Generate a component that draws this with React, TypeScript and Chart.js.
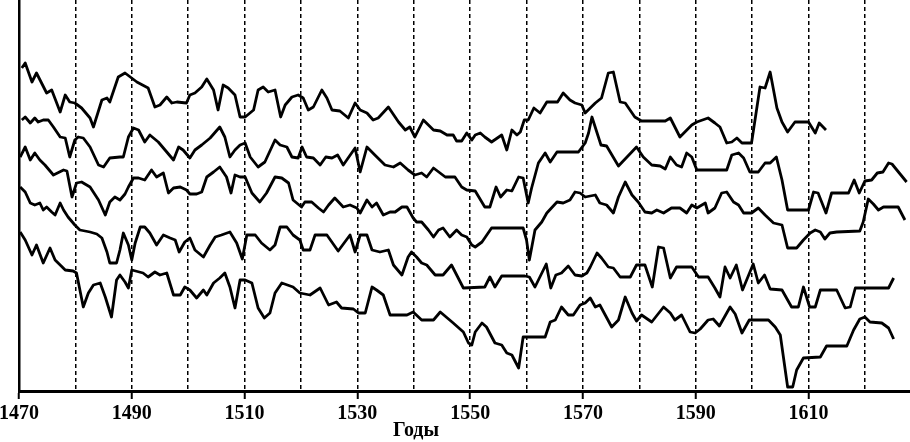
import React, { useEffect, useRef } from "react";
import { Chart, registerables } from "chart.js";

Chart.register(...registerables);

// ---- data ----
const labeledYears = [1470, 1490, 1510, 1530, 1550, 1570, 1590, 1610];
const xTitle = "Годы";

const s1Years = [1470.5,1471.1,1472.3,1473.1,1474.9,1475.8,1477.3,1478.2,1479.0,1479.9,1481.1,1482.6,1483.2,1484.7,1485.6,1486.1,1487.6,1488.8,1490.9,1492.9,1494.1,1495.0,1496.2,1497.1,1498.0,1499.7,1500.3,1501.2,1502.4,1503.3,1504.5,1505.3,1506.2,1507.1,1508.3,1509.2,1510.1,1511.6,1512.4,1513.3,1514.2,1515.4,1516.4,1517.2,1518.4,1519.5,1520.4,1521.3,1522.2,1523.7,1524.6,1525.5,1526.9,1528.4,1529.6,1530.5,1531.7,1532.8,1533.7,1535.5,1537.3,1538.5,1539.3,1540.2,1541.7,1543.5,1544.7,1545.9,1547.0,1547.6,1548.5,1549.4,1550.3,1550.9,1551.8,1552.6,1553.8,1555.6,1556.5,1557.4,1558.3,1558.9,1559.6,1560.3,1561.3,1562.4,1563.6,1565.5,1566.5,1567.7,1568.6,1569.8,1570.4,1571.3,1572.2,1573.3,1574.5,1575.4,1576.6,1577.5,1579.2,1580.4,1584.6,1585.5,1587.2,1589.3,1590.2,1592.2,1593.4,1594.3,1595.5,1596.4,1597.3,1598.2,1599.9,1601.4,1602.3,1603.2,1604.4,1605.3,1606.3,1607.6,1610.0,1611.2,1611.9,1613.1];
const s1Values = [322,327,308,317,297,300,278,295,288,287,282,272,263,290,292,288,313,317,308,302,283,285,293,287,288,287,295,297,303,311,300,280,305,302,295,273,273,280,300,303,298,300,273,285,293,295,292,280,283,300,292,280,279,272,287,280,277,270,272,283,268,260,263,253,270,260,259,255,255,249,249,257,250,255,257,253,248,255,240,260,255,258,270,270,282,277,288,288,297,290,287,285,277,282,287,292,317,318,288,287,273,269,269,272,253,265,268,272,267,263,247,248,252,247,247,303,302,318,282,268,258,268,268,257,267,260];

const s2Years = [1470.5,1471.1,1472.0,1472.8,1473.4,1474.3,1475.2,1476.1,1477.3,1478.2,1479.0,1479.9,1480.5,1481.4,1482.6,1484.1,1485.0,1486.1,1487.9,1488.5,1489.4,1490.3,1491.2,1492.3,1493.2,1494.7,1495.9,1497.4,1498.3,1499.1,1500.3,1501.2,1502.4,1503.9,1505.6,1506.5,1507.4,1508.3,1509.2,1510.1,1511.0,1512.4,1513.6,1515.4,1516.3,1517.5,1518.4,1519.5,1520.2,1521.0,1522.2,1523.4,1524.4,1525.5,1526.5,1527.5,1529.6,1530.5,1531.7,1533.1,1534.9,1536.4,1537.6,1539.0,1540.2,1541.4,1542.3,1543.5,1545.6,1547.3,1548.5,1549.4,1550.9,1552.6,1553.5,1554.6,1555.4,1556.5,1557.4,1558.6,1559.4,1560.3,1560.9,1562.1,1563.3,1564.2,1565.4,1569.2,1570.4,1571.0,1571.6,1573.2,1574.2,1576.3,1579.5,1580.7,1582.2,1583.7,1584.6,1585.5,1586.6,1587.5,1588.4,1589.3,1590.2,1595.5,1596.4,1597.6,1598.5,1599.6,1601.1,1602.3,1603.2,1604.3,1605.3,1606.3,1610.0,1610.9,1611.7,1613.1,1614.1,1617.1,1618.1,1619.0,1620.0,1621.2,1622.2,1623.2,1624.2,1624.8,1627.4];
const s2Values = [270,273,267,272,268,270,270,263,253,252,233,250,253,252,243,225,223,232,233,233,253,262,260,248,255,248,240,230,243,240,232,240,245,252,263,253,233,240,245,247,233,223,228,250,245,243,233,232,243,233,232,225,233,232,235,225,242,218,243,235,225,223,227,220,215,217,213,222,213,213,203,200,199,183,183,203,193,200,199,213,212,187,202,227,237,228,238,238,247,257,273,245,244,224,243,233,225,224,221,233,225,223,237,233,220,220,235,237,232,218,218,227,227,233,210,180,180,198,197,177,197,197,210,197,209,210,217,218,227,226,208];

const s3Years = [1470.2,1471.1,1472.0,1472.8,1473.7,1474.6,1476.1,1477.9,1478.5,1479.4,1480.2,1481.1,1482.6,1484.1,1485.3,1486.1,1487.0,1487.9,1488.8,1489.4,1490.3,1491.2,1492.3,1493.5,1494.4,1495.6,1496.5,1497.4,1498.6,1499.7,1500.3,1501.5,1502.4,1503.3,1504.5,1505.6,1506.8,1507.6,1508.3,1509.2,1510.1,1511.3,1512.7,1513.9,1515.4,1516.6,1517.8,1518.6,1520.1,1520.7,1521.9,1523.1,1524.0,1524.9,1526.0,1527.5,1528.7,1529.9,1530.5,1531.7,1532.6,1533.4,1534.6,1535.8,1536.7,1537.9,1538.8,1539.9,1540.5,1541.4,1542.6,1543.5,1544.4,1545.2,1546.4,1547.6,1548.5,1549.4,1550.3,1550.9,1552.1,1553.8,1559.4,1560.0,1560.5,1561.5,1562.7,1563.6,1565.4,1566.5,1567.7,1568.6,1569.5,1570.4,1572.2,1573.0,1574.2,1575.4,1576.3,1577.5,1578.7,1579.8,1581.0,1582.2,1583.1,1584.3,1585.7,1587.2,1588.4,1589.3,1590.2,1591.1,1591.7,1592.2,1593.4,1594.6,1595.5,1596.7,1597.6,1598.5,1599.9,1601.1,1602.3,1603.8,1605.3,1606.3,1607.9,1609.1,1610.3,1611.2,1612.1,1612.9,1613.8,1615.0,1619.1,1619.7,1620.6,1621.5,1622.4,1623.3,1625.9,1627.1];
const s3Values = [233,243,230,237,230,225,215,220,219,193,207,208,203,190,175,188,193,190,196,203,212,212,210,220,213,217,197,202,203,200,196,196,198,213,218,223,213,197,215,213,213,197,188,197,213,212,207,190,183,188,188,182,178,185,192,183,185,182,177,190,183,187,175,178,178,183,183,172,168,168,160,153,160,162,153,160,155,153,145,143,148,162,162,150,130,160,168,177,188,187,190,198,197,193,195,187,185,177,193,208,195,188,178,177,180,177,182,182,177,185,182,185,187,177,182,197,198,188,185,177,177,182,175,167,165,142,142,150,157,160,158,151,157,158,159,168,191,186,180,183,183,170];

const s4Years = [1470.2,1471.1,1472.0,1472.8,1473.7,1474.3,1474.9,1475.8,1476.4,1477.3,1477.9,1478.7,1479.9,1480.8,1482.6,1483.8,1484.7,1485.6,1486.1,1487.3,1487.9,1488.5,1488.8,1489.4,1490.0,1490.6,1491.5,1492.3,1493.2,1494.4,1495.6,1496.8,1497.7,1498.4,1499.4,1500.3,1501.2,1502.7,1503.9,1504.8,1505.9,1507.4,1508.6,1509.6,1510.4,1511.9,1513.0,1514.5,1515.4,1516.3,1517.5,1518.6,1519.8,1520.4,1521.6,1522.5,1524.6,1526.6,1528.7,1529.6,1530.5,1531.7,1532.6,1534.0,1535.5,1536.4,1537.9,1539.0,1539.6,1540.5,1541.4,1542.3,1543.8,1545.2,1546.7,1548.8,1552.6,1553.5,1554.4,1555.6,1559.7,1560.5,1561.5,1563.5,1564.3,1565.2,1566.2,1567.4,1568.6,1569.8,1570.7,1571.3,1572.5,1573.3,1574.5,1575.4,1576.6,1578.4,1579.5,1581.0,1582.3,1583.4,1584.3,1585.5,1586.6,1589.3,1590.5,1592.2,1593.4,1594.3,1595.2,1596.1,1597.2,1598.3,1600.2,1601.1,1602.2,1603.2,1605.3,1607.0,1608.2,1609.1,1610.2,1611.2,1612.1,1615.0,1616.5,1617.4,1618.3,1624.2,1625.1];
const s4Values = [203,198,187,185,187,180,183,178,175,187,180,173,165,160,158,156,152,138,127,127,140,157,153,145,130,147,163,163,157,145,155,152,150,138,148,152,140,133,145,153,155,158,147,131,155,155,147,140,145,163,163,155,150,140,140,155,155,139,155,138,155,155,140,138,140,125,115,133,138,133,127,125,115,115,125,102,103,113,103,114,114,113,103,126,102,115,117,124,115,114,117,123,137,132,123,122,113,113,125,125,103,143,142,112,123,123,113,113,102,93,123,112,125,100,126,107,115,101,100,83,83,103,83,83,100,100,82,83,102,102,112];

const s5Years = [1470.2,1471.1,1472.3,1473.1,1474.3,1475.5,1476.4,1477.3,1478.2,1479.6,1480.2,1481.4,1482.3,1483.2,1484.4,1485.3,1486.4,1487.3,1487.9,1488.8,1489.4,1490.0,1492.0,1492.9,1494.1,1495.0,1496.2,1497.4,1498.6,1499.4,1500.3,1501.5,1502.7,1503.3,1504.5,1505.6,1506.5,1507.4,1508.3,1509.2,1510.1,1511.3,1512.4,1513.5,1514.5,1515.4,1516.6,1518.6,1519.8,1521.6,1523.4,1524.9,1526.3,1527.2,1529.3,1530.2,1531.4,1532.6,1533.4,1534.6,1535.8,1538.8,1539.9,1541.4,1543.5,1544.7,1547.0,1548.8,1549.7,1550.3,1550.9,1552.1,1552.9,1554.4,1555.6,1556.5,1557.4,1558.6,1559.4,1563.3,1564.2,1565.1,1566.2,1567.4,1568.3,1569.5,1570.4,1571.3,1572.2,1573.0,1575.1,1576.3,1577.5,1578.7,1579.5,1580.4,1582.2,1584.3,1585.5,1586.3,1587.5,1589.0,1589.9,1590.8,1592.2,1593.1,1594.2,1596.1,1597.0,1598.2,1599.5,1602.9,1604.1,1605.0,1606.3,1607.2,1607.9,1609.1,1612.1,1613.2,1616.8,1618.0,1619.1,1620.0,1620.9,1623.0,1624.2,1625.1];
const s5Values = [158,150,135,145,127,142,130,125,120,119,117,83,97,105,107,93,73,110,115,108,102,120,117,113,118,115,117,95,95,103,100,92,100,95,107,112,117,103,82,110,110,107,82,72,77,97,107,103,97,95,102,85,88,82,81,77,77,103,100,95,75,75,78,70,70,78,67,58,47,45,58,67,63,47,45,37,35,22,53,53,68,70,83,75,75,85,87,92,83,85,63,70,93,77,69,75,68,83,77,70,75,58,57,61,70,71,64,83,76,57,70,70,63,55,3,3,20,32,33,44,44,60,71,73,68,67,62,51];

const seriesYears = [s1Years, s2Years, s3Years, s4Years, s5Years];
const seriesValues = [s1Values, s2Values, s3Values, s4Values, s5Values];

const FONT_FAMILY = '"Liberation Serif", "Times New Roman", serif';

const titlePlugin = {
  id: "xTitleLeft",
  afterDraw(chart: any) {
    const { ctx, scales } = chart;
    const x = scales.x;
    ctx.save();
    ctx.font = `bold 20px ${FONT_FAMILY}`;
    ctx.fillStyle = "#000";
    ctx.textAlign = "center";
    ctx.textBaseline = "middle";
    ctx.fillText(xTitle, x.getPixelForValue(1540.4), 431);
    ctx.restore();
  },
};

export default function App() {
  const ref = useRef<HTMLCanvasElement | null>(null);

  useEffect(() => {
    if (!ref.current) return;
    const datasets = seriesYears.map((years, si) => ({
      label: `Ряд ${si + 1}`,
      data: years.map((yr, i) => ({ x: yr, y: seriesValues[si][i] })),
      borderColor: "#000",
      borderWidth: 2.8,
      pointRadius: 0,
      tension: 0,
      fill: false,
      borderJoinStyle: "round" as const,
    }));

    const chart = new Chart(ref.current, {
      type: "line",
      data: { datasets },
      plugins: [titlePlugin],
      options: {
        animation: false,
        responsive: false,
        maintainAspectRatio: false,
        layout: { padding: { left: 19, right: 0, top: 0, bottom: 0 } },
        plugins: {
          legend: { display: false },
          tooltip: { enabled: false },
        },
        scales: {
          x: {
            type: "linear",
            min: 1470,
            max: 1628,
            afterFit: (s: any) => {
              s.height = 51;
              s.paddingLeft = 0;
              s.paddingRight = 0;
            },
            ticks: {
              stepSize: 10,
              includeBounds: false,
              autoSkip: false,
              maxRotation: 0,
              padding: 3,
              color: "#000",
              font: { family: FONT_FAMILY, size: 20, weight: "bold" },
              callback: (v: any) => (labeledYears.includes(Number(v)) ? String(v) : ""),
            },
            grid: {
              display: true,
              drawOnChartArea: true,
              drawTicks: true,
              tickLength: 8,
              lineWidth: 1.5,
              tickWidth: 2,
              tickBorderDash: [],
              color: (ctx: any) =>
                ctx.tick && ctx.tick.value === 1470 ? "rgba(0,0,0,0)" : "#000",
              tickColor: (ctx: any) =>
                ctx.tick && labeledYears.includes(ctx.tick.value) ? "#000" : "rgba(0,0,0,0)",
            },
            border: { display: true, color: "#000", width: 3, dash: [4, 3] },
          },
          y: {
            type: "linear",
            min: -1,
            max: 390,
            afterFit: (s: any) => {
              s.width = 0;
            },
            ticks: { display: false },
            grid: { display: false, drawTicks: false },
            border: { display: true, color: "#000", width: 2.5 },
          },
        },
      },
    } as any);

    return () => chart.destroy();
  }, []);

  return (
    <div style={{ position: "fixed", left: 0, top: 0, width: 910, height: 442, background: "#fff" }}>
      <canvas ref={ref} width={910} height={442} style={{ display: "block" }} />
    </div>
  );
}
